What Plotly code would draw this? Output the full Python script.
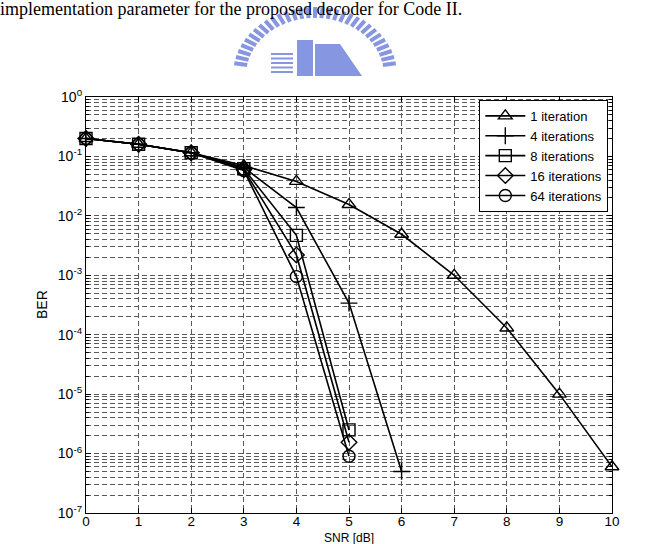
import math
import plotly.graph_objects as go

snr = [0, 1, 2, 3, 4, 5, 6, 7, 8, 9, 10]
ber_1 = [0.2, 0.16, 0.115, 0.07, 0.038, 0.0155, 0.0049, 0.001, 1.3e-4, 1.0e-5, 6.0e-7]
snr_4 = [0, 1, 2, 3, 4, 5, 6]
ber_4 = [0.2, 0.16, 0.115, 0.065, 0.0138, 3.4e-4, 5.0e-7]
snr_8 = [0, 1, 2, 3, 4, 5]
ber_8 = [0.2, 0.16, 0.115, 0.062, 0.0047, 2.5e-6]
snr_16 = [0, 1, 2, 3, 4, 5]
ber_16 = [0.2, 0.16, 0.115, 0.06, 0.0022, 1.55e-6]
snr_64 = [0, 1, 2, 3, 4, 5]
ber_64 = [0.2, 0.16, 0.115, 0.058, 0.00095, 9.0e-7]

series = [
    ("1 iteration", snr, ber_1, "triangle-up-open"),
    ("4 iterations", snr_4, ber_4, "cross-thin-open"),
    ("8 iterations", snr_8, ber_8, "square-open"),
    ("16 iterations", snr_16, ber_16, "diamond-open"),
    ("64 iterations", snr_64, ber_64, "circle-open"),
]

y_exps = [0, -1, -2, -3, -4, -5, -6, -7]
x_ticks = list(range(0, 11))

W, H = 664, 544
L, R, T, B = 86, 52, 97, 31
PW, PH = W - L - R, H - T - B

fig = go.Figure()
for name, xs, ys, sym in series:
    fig.add_trace(go.Scatter(
        x=xs, y=ys, name=name, mode="lines+markers", cliponaxis=False,
        line=dict(color="black", width=1.6),
        marker=dict(symbol=sym, size=12, color="black",
                    line=dict(color="black", width=1.4)),
    ))

minor_vals = [m * 10 ** e for e in range(-7, 0) for m in range(2, 10)]
grid = dict(showgrid=True, gridcolor="#5a5a5a", gridwidth=1, griddash="5px,3px")

fig.update_layout(
    width=W, height=H,
    margin=dict(l=L, r=R, t=T, b=B, autoexpand=False),
    paper_bgcolor="white", plot_bgcolor="white",
    font=dict(family="Liberation Sans, Arial", size=14, color="black"),
    showlegend=True,
    legend=dict(
        x=0.993, y=0.993, xanchor="right", yanchor="top",
        bgcolor="white", bordercolor="black", borderwidth=1,
        font=dict(size=13), tracegroupgap=0, itemwidth=40,
    ),
    xaxis=dict(
        range=[0, 10], tickvals=x_ticks, ticktext=[str(v) for v in x_ticks],
        showline=True, linecolor="black", linewidth=1.2, mirror="ticks",
        ticks="inside", ticklen=5, tickcolor="black", automargin=False,
        ticklabelstandoff=-4,
        zeroline=False, tickfont=dict(size=13.5), **grid,
    ),
    yaxis=dict(
        type="log", range=[-7, 0],
        tickvals=[10 ** e for e in y_exps],
        ticktext=["10<sup>%d</sup>" % e for e in y_exps],
        showline=True, linecolor="black", linewidth=1.2, mirror="ticks",
        ticks="inside", ticklen=5, tickcolor="black", automargin=False,
        minor=dict(tickvals=minor_vals, ticks="inside", ticklen=3,
                   tickcolor="black", **grid),
        zeroline=False, tickfont=dict(size=14), **grid,
    ),
)

# axis titles
fig.add_annotation(text="SNR [dB]", xref="paper", yref="paper", x=0.5, y=0,
                   yshift=-B - 3, xanchor="center", yanchor="bottom", showarrow=False,
                   font=dict(size=12))
fig.add_annotation(text="BER", xref="paper", yref="paper", x=0, y=0.5,
                   xshift=-44, textangle=-90, xanchor="center", yanchor="middle",
                   showarrow=False, font=dict(size=14))

# page caption above the chart (partially visible in source)
fig.add_annotation(
    text="implementation parameter for the proposed decoder for Code II.",
    xref="paper", yref="paper", x=0, y=1.0, xshift=-L - 2, yshift=T + 3,
    xanchor="left", yanchor="top", showarrow=False,
    font=dict(family="Liberation Serif, Times New Roman", size=18, color="black"),
)


def px(x):
    return (x - L) / PW


def py(y):
    return (H - B - y) / PH


# watermark logo (light blue), drawn with shapes
logo_col = "rgba(95,115,215,0.75)"
cx, cy, ax, by = 315, 75, 82, 68
n = 30
for i in range(n + 1):
    a = math.radians(10 + 160 * i / n)
    x0, y0 = cx + ax * 0.84 * math.cos(a), cy - by * 0.84 * math.sin(a)
    x1, y1 = cx + ax * math.cos(a), cy - by * math.sin(a)
    fig.add_shape(type="line", xref="paper", yref="paper",
                  x0=px(x0), y0=py(y0), x1=px(x1), y1=py(y1),
                  line=dict(color=logo_col, width=4), layer="below")
for k in range(5):
    yy = 54 + k * 4.5
    fig.add_shape(type="line", xref="paper", yref="paper",
                  x0=px(271), y0=py(yy), x1=px(293), y1=py(yy),
                  line=dict(color=logo_col, width=2), layer="below")
fig.add_shape(type="rect", xref="paper", yref="paper",
              x0=px(297), y0=py(76), x1=px(313), y1=py(40),
              fillcolor=logo_col, line=dict(width=0), layer="below")
fig.add_shape(type="path", xref="paper", yref="paper",
              path="M %f,%f L %f,%f L %f,%f L %f,%f L %f,%f Z" % (
                  px(315), py(76), px(315), py(44), px(340), py(44),
                  px(362), py(76), px(340), py(76)),
              fillcolor=logo_col, line=dict(width=0), layer="below")

fig.write_html("out.html")
